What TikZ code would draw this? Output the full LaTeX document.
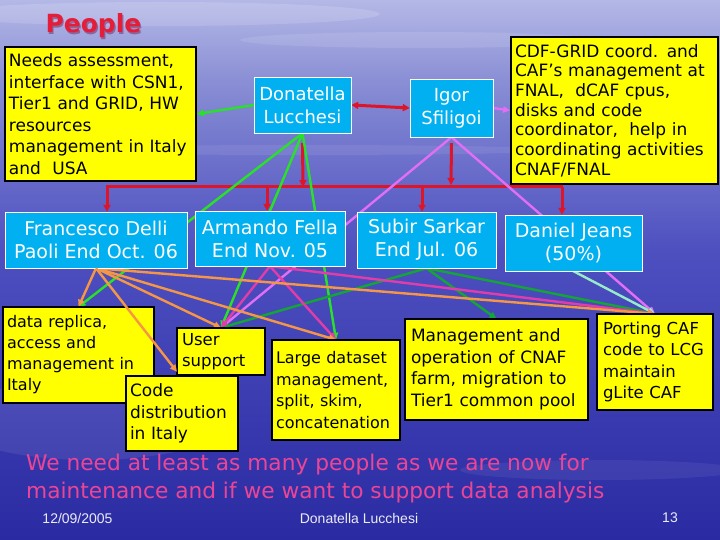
\documentclass[tikz,border=0pt]{standalone}
\usepackage{fontspec}
\setmainfont{DejaVu Sans}
\newfontfamily\footfont{Liberation Sans}
\usetikzlibrary{arrows.meta}
\definecolor{cyanbox}{RGB}{0,176,240}
\definecolor{yelbox}{RGB}{255,255,0}
\definecolor{bgtop}{RGB}{180,184,230}
\definecolor{bgup}{RGB}{135,140,212}
\definecolor{bgmid}{RGB}{78,80,192}
\definecolor{bgbot}{RGB}{42,42,162}
\definecolor{cgreen}{RGB}{40,225,40}
\definecolor{cdkgreen}{RGB}{20,165,55}
\definecolor{cmint}{RGB}{150,235,200}
\definecolor{cviolet}{RGB}{225,110,245}
\definecolor{cmagenta}{RGB}{225,60,170}
\definecolor{corange}{RGB}{245,150,70}
\definecolor{cred}{RGB}{222,20,40}
\definecolor{pinktxt}{RGB}{235,70,150}
\definecolor{titlered}{RGB}{228,30,58}
\definecolor{titleshadow}{RGB}{120,60,110}
\definecolor{footcol}{RGB}{235,235,245}
\pgfdeclareverticalshading{bgsh}{100bp}{color(0bp)=(bgbot); color(25bp)=(bgbot); color(52bp)=(bgmid); color(67bp)=(bgup); color(75bp)=(bgtop); color(100bp)=(bgtop)}
\tikzset{
  ybox/.style={draw=black, line width=1.8pt, fill=yelbox, inner sep=0pt, align=left},
  cbox/.style={draw=white, line width=0.8pt, fill=cyanbox, text=white, inner sep=0pt, align=center,
    font=\fontsize{19pt}{23pt}\selectfont},
  conn/.style={line width=2.4pt, -{Triangle[length=7pt,width=6.5pt]}},
  redarr/.style={cred, line width=3pt, -{Triangle[length=7pt,width=7pt]}},
  anchorbox/.style={inner sep=0pt},
}
\begin{document}
\begin{tikzpicture}[x=1pt,y=-1pt]
\useasboundingbox (0,0) rectangle (720,540);
\shade[shading=bgsh] (0,0) rectangle (720,540);
% faint clouds and reflections
\fill[white,opacity=0.14] (160,14) ellipse [x radius=220, y radius=12];
\fill[white,opacity=0.10] (420,40) ellipse [x radius=180, y radius=8];
\fill[white,opacity=0.08] (300,150) ellipse [x radius=260, y radius=5];
\fill[white,opacity=0.08] (90,420) ellipse [x radius=140, y radius=40];
\fill[white,opacity=0.06] (600,470) ellipse [x radius=140, y radius=10];

% title
\node[anchor=base west, font=\bfseries\fontsize{25pt}{30pt}\selectfont, text=titleshadow, opacity=0.6] at (43.2,34.2) {People};
\node[anchor=base west, font=\bfseries\fontsize{25pt}{30pt}\selectfont, text=titlered] (title) at (42,33) {People};

% named points on the red bar
\coordinate (barL) at (106,187);
\coordinate (barR) at (563,187);
\coordinate (bfran) at (107,187);
\coordinate (barm) at (267,187);
\coordinate (bsub) at (422,187);
\coordinate (bdan) at (562,187);
\coordinate (bdon) at (303,187);
\coordinate (bigor) at (451,187);

% ---------- boxes of the first row ----------
\node[ybox, minimum width=191pt, minimum height=134pt, text width=183pt,
  font=\fontsize{17pt}{21.5pt}\selectfont] (needs) at (100.5,114)
  {Needs assessment,\\interface with CSN1,\\Tier1 and GRID, HW\\resources\\management in Italy\\and\ \ USA};
\node[ybox, minimum width=207pt, minimum height=147pt, text width=199pt,
  font=\fontsize{17pt}{19.7pt}\selectfont] (cdf) at (614.5,110.5)
  {CDF-GRID coord. and\\CAF's management at\\FNAL,\ \ dCAF cpus,\\disks and code\\coordinator,\ \ help in\\coordinating activities\\CNAF/FNAL};

% anchors of the remaining boxes (drawn later, over the connectors)
\path node[anchorbox, minimum width=97pt, minimum height=56pt] (don) at (302.5,105) {}
      node[anchorbox, minimum width=83pt, minimum height=58pt] (igor) at (451.5,108) {}
      node[anchorbox, minimum width=182pt, minimum height=56pt] (fran) at (96,240) {}
      node[anchorbox, minimum width=150pt, minimum height=55pt] (arm) at (270,238.5) {}
      node[anchorbox, minimum width=139pt, minimum height=56pt] (sub) at (426.5,240) {}
      node[anchorbox, minimum width=137pt, minimum height=56pt] (dan) at (573.5,243) {}
      node[anchorbox, minimum width=151pt, minimum height=96pt] (rep) at (78.5,355) {}
      node[anchorbox, minimum width=88pt, minimum height=47pt] (usr) at (221,351.5) {}
      node[anchorbox, minimum width=112pt, minimum height=75pt] (code) at (182,413.5) {}
      node[anchorbox, minimum width=128pt, minimum height=100pt] (large) at (336,390) {}
      node[anchorbox, minimum width=183pt, minimum height=101pt] (mgmt) at (496.5,369.5) {}
      node[anchorbox, minimum width=116pt, minimum height=96pt] (port) at (655,362) {};

\coordinate (codeT) at ([xshift=-5pt,yshift=4pt]code.north);

% ---------- connectors ----------
% red structure
\draw[cred, line width=3pt] (barL) -- (barR);
\draw[redarr] ([yshift=-10pt]don.south) -- (bdon);
\draw[redarr] ([yshift=-6pt]igor.south) -- ([yshift=2pt]bigor);
\draw[redarr] (bfran) -- (bfran |- fran.north);
\draw[redarr] (barm) -- (barm |- arm.north);
\draw[redarr] (bsub) -- (bsub |- sub.north);
\draw[redarr] (bdan) -- (bdan |- dan.north);
\draw[cred, line width=3pt, {Triangle[length=7pt,width=7pt]}-{Triangle[length=7pt,width=7pt]}] (don.east) -- (igor.west);

% green from Donatella
\draw[conn, cgreen] (don.west) -- (needs.east);
\draw[conn, cgreen] (don.south) -- (rep.north);
\draw[conn, cgreen] (don.south) -- (usr.north);
\draw[conn, cgreen] (don.south) -- (large.north);
% violet from Igor
\draw[conn, cviolet] (igor.east) -- (cdf.west);
\draw[conn, cviolet] (igor.south) -- (usr.north);
\draw[conn, cviolet] (igor.south) -- (port.north);
% dark green from Subir
\draw[conn, cdkgreen] (sub.south) -- (usr.north);
\draw[conn, cdkgreen] (sub.south) -- (mgmt.north);
\draw[conn, cdkgreen] (sub.south) -- (port.north);
% mint from Daniel
\draw[conn, cmint] (dan.south) -- (port.north);
% magenta from Armando
\draw[conn, cmagenta] (arm.south) -- (usr.north);
\draw[conn, cmagenta] (arm.south) -- (large.north);
\draw[conn, cmagenta] (arm.south) -- (port.north);
% orange from Francesco
\draw[conn, corange] (fran.south) -- (rep.north);
\draw[conn, corange] (fran.south) -- (usr.north);
\draw[conn, corange] (fran.south) -- (large.north);
\draw[conn, corange] (fran.south) -- (port.north);

% ---------- visible boxes ----------
\node[cbox, minimum width=97pt, minimum height=56pt, font=\fontsize{18pt}{23pt}\selectfont] at (don) {Donatella\\Lucchesi};
\node[cbox, minimum width=83pt, minimum height=58pt, font=\fontsize{18pt}{23pt}\selectfont] at (igor) {Igor\\Sfiligoi};
\node[cbox, minimum width=182pt, minimum height=56pt] at (fran) {Francesco Delli\\Paoli End Oct. 06};
\node[cbox, minimum width=150pt, minimum height=55pt] at (arm) {Armando Fella\\End Nov. 05};
\node[cbox, minimum width=139pt, minimum height=56pt] at (sub) {Subir Sarkar\\End Jul. 06};
\node[cbox, minimum width=137pt, minimum height=56pt] at (dan) {Daniel Jeans\\(50\%)};

\node[ybox, minimum width=151pt, minimum height=96pt, text width=143pt,
  font=\fontsize{16pt}{21pt}\selectfont] at (rep) {data replica,\\access and\\management in\\Italy};
\node[ybox, minimum width=88pt, minimum height=47pt, text width=78pt,
  font=\fontsize{16.5pt}{21.5pt}\selectfont] at (usr) {User\\support};
% this connector crosses over the data replica box
\draw[conn, corange] (fran.south) -- (codeT);
\node[ybox, minimum width=112pt, minimum height=75pt, text width=104pt,
  font=\fontsize{17pt}{21.5pt}\selectfont] at (code) {Code\\distribution\\in Italy};
\node[ybox, minimum width=128pt, minimum height=100pt, text width=120pt,
  font=\fontsize{16pt}{21.5pt}\selectfont] at (large) {Large dataset\\management,\\split, skim,\\concatenation};
\node[ybox, minimum width=183pt, minimum height=101pt, text width=171pt,
  font=\fontsize{17pt}{21.5pt}\selectfont] at (mgmt) {Management and\\operation of CNAF\\farm, migration to\\Tier1 common pool};
\node[ybox, minimum width=116pt, minimum height=96pt, text width=104pt,
  font=\fontsize{16.5pt}{21.5pt}\selectfont] at (port) {Porting CAF\\code to LCG\\maintain\\gLite CAF};

% ---------- texts ----------
\node[anchor=west, align=left, text=pinktxt, inner sep=0pt,
  font=\fontsize{21.7pt}{28pt}\selectfont] (note) at (26,479)
  {We need at least as many people as we are now for\\maintenance and if we want to support data analysis};
\node[font=\footfont\fontsize{14pt}{16pt}\selectfont, text=footcol] (date) at (77.5,518) {12/09/2005};
\node[font=\footfont\fontsize{14pt}{16pt}\selectfont, text=footcol] (auth) at (359,518) {Donatella Lucchesi};
\node[font=\footfont\fontsize{14pt}{16pt}\selectfont, text=footcol] (page) at (670,518) {13};
\end{tikzpicture}
\end{document}
